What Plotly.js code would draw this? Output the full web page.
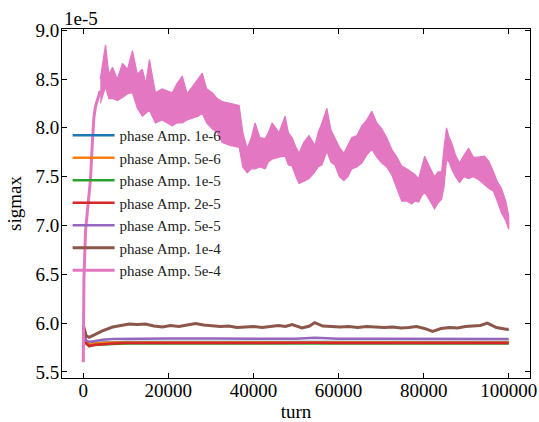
<!DOCTYPE html>
<html>
<head>
<meta charset="utf-8">
<script src="https://cdn.plot.ly/plotly-3.0.1.min.js"></script>
<style>html,body{margin:0;padding:0;background:#fff;}#chart{width:539px;height:422px;}</style>
</head>
<body>
<div id="chart"></div>
<script>
// values of sigmax in units of 1e-5
var seriesNames = ["phase Amp. 1e-6", "phase Amp. 5e-6", "phase Amp. 1e-5", "phase Amp. 2e-5", "phase Amp. 5e-5", "phase Amp. 1e-4", "phase Amp. 5e-4"];
var xTickVals = [0, 20000, 40000, 60000, 80000, 100000];
var xTickText = ["0", "20000", "40000", "60000", "80000", "100000"];
var yTickVals = [5.5, 6.0, 6.5, 7.0, 7.5, 8.0, 8.5, 9.0];
var yTickText = ["5.5", "6.0", "6.5", "7.0", "7.5", "8.0", "8.5", "9.0"];
var offsetText = "1e-5";

var turnsLow = [0, 300, 700, 1400, 2500, 4500, 6900, 10000, 20000, 30000, 40000, 50000, 54400, 60000, 70000, 80000, 90000, 100000];
var amp1e6 = [5.98, 5.88, 5.81, 5.785, 5.795, 5.80, 5.805, 5.807, 5.806, 5.807, 5.806, 5.806, 5.808, 5.806, 5.806, 5.805, 5.806, 5.806];
var amp5e6 = [5.98, 5.87, 5.80, 5.78, 5.79, 5.797, 5.80, 5.802, 5.802, 5.803, 5.802, 5.802, 5.804, 5.802, 5.802, 5.802, 5.802, 5.802];
var amp1e5 = [5.97, 5.86, 5.79, 5.765, 5.775, 5.783, 5.787, 5.79, 5.79, 5.79, 5.79, 5.79, 5.79, 5.79, 5.79, 5.79, 5.79, 5.79];
var amp2e5 = [5.97, 5.86, 5.79, 5.765, 5.776, 5.786, 5.792, 5.795, 5.797, 5.797, 5.797, 5.797, 5.798, 5.797, 5.797, 5.797, 5.797, 5.797];
var amp5e5 = [5.98, 5.88, 5.82, 5.808, 5.815, 5.83, 5.838, 5.84, 5.842, 5.841, 5.84, 5.84, 5.85, 5.84, 5.839, 5.838, 5.838, 5.837];

var turnsBrown = [0, 300, 700, 1400, 2500, 4500, 6900, 8800, 10800, 12700, 14600, 16600, 18600, 20500, 22500, 24400, 26400, 28300, 30300, 32200, 34200, 36100, 38100, 40000, 42000, 43900, 45900, 47500, 49100, 51400, 53200, 54400, 56300, 58300, 60300, 62400, 64500, 66600, 68700, 70700, 72800, 74700, 76500, 78300, 80200, 82100, 84100, 86100, 88000, 89800, 91500, 93300, 95000, 97100, 99700, 100000];
var amp1e4 = [5.98, 5.92, 5.87, 5.855, 5.88, 5.92, 5.96, 5.975, 5.99, 5.985, 5.99, 5.97, 5.96, 5.975, 5.965, 5.98, 5.995, 5.98, 5.975, 5.965, 5.97, 5.955, 5.96, 5.965, 5.955, 5.965, 5.975, 5.965, 5.985, 5.95, 5.97, 6.005, 5.97, 5.965, 5.96, 5.965, 5.955, 5.965, 5.96, 5.955, 5.96, 5.95, 5.955, 5.965, 5.945, 5.915, 5.945, 5.955, 5.95, 5.965, 5.97, 5.975, 6.0, 5.955, 5.935, 5.94];

var turnsPinkRise = [0, 150, 540, 940, 1710, 2110, 2480, 2880, 4000];
var amp5e4Rise = [5.6, 6.45, 6.95, 7.15, 7.48, 7.83, 8.10, 8.22, 8.38];

var turnsPink = [4000, 5230, 6000, 6870, 8000, 9210, 10400, 11560, 12700, 13900, 14700, 15540, 16950, 18500, 20930, 22000, 23280, 24400, 25620, 27000, 27970, 29000, 30310, 31500, 32660, 34530, 36640, 37500, 38520, 39500, 40390, 41500, 42740, 43500, 44380, 46000, 47430, 48200, 49070, 50000, 50710, 51800, 53050, 54460, 55200, 56090, 57260, 58200, 59140, 60200, 61250, 62200, 63120, 64300, 65470, 66600, 67810, 69000, 70160, 71300, 72500, 73700, 74850, 76000, 77190, 78000, 78830, 79500, 80240, 81400, 82580, 83400, 84220, 84800, 85390, 86000, 86560, 87500, 88440, 89500, 90550, 91700, 92890, 94300, 95300, 96410, 97300, 98280, 99300, 100000];
var amp5e4Upper = [8.50, 8.85, 8.55, 8.62, 8.50, 8.66, 8.60, 8.79, 8.55, 8.60, 8.45, 8.70, 8.36, 8.40, 8.36, 8.45, 8.53, 8.35, 8.42, 8.50, 8.56, 8.40, 8.36, 8.30, 8.27, 8.25, 8.23, 7.95, 7.79, 7.90, 8.05, 7.90, 7.89, 7.95, 8.05, 7.95, 8.12, 7.95, 7.90, 7.80, 7.74, 7.85, 7.92, 7.82, 7.95, 8.05, 8.20, 7.98, 7.90, 7.80, 7.74, 7.82, 7.90, 7.92, 8.02, 8.08, 8.17, 8.05, 7.99, 7.90, 7.78, 7.70, 7.61, 7.58, 7.54, 7.52, 7.48, 7.60, 7.71, 7.60, 7.50, 7.55, 7.55, 7.80, 8.00, 7.90, 7.85, 7.72, 7.64, 7.72, 7.79, 7.70, 7.70, 7.71, 7.66, 7.55, 7.45, 7.38, 7.25, 7.10];
var amp5e4Lower = [8.25, 8.42, 8.30, 8.30, 8.28, 8.31, 8.35, 8.36, 8.20, 8.12, 8.15, 8.18, 8.05, 8.08, 8.02, 8.05, 8.05, 8.08, 8.10, 8.12, 8.15, 8.05, 7.99, 7.95, 7.85, 7.82, 7.80, 7.60, 7.54, 7.58, 7.58, 7.60, 7.58, 7.65, 7.68, 7.70, 7.71, 7.62, 7.61, 7.50, 7.43, 7.45, 7.48, 7.55, 7.60, 7.62, 7.76, 7.65, 7.62, 7.50, 7.46, 7.50, 7.58, 7.60, 7.64, 7.72, 7.78, 7.70, 7.64, 7.60, 7.52, 7.38, 7.25, 7.25, 7.22, 7.25, 7.24, 7.30, 7.34, 7.26, 7.17, 7.23, 7.27, 7.40, 7.67, 7.65, 7.58, 7.50, 7.44, 7.50, 7.48, 7.50, 7.47, 7.42, 7.38, 7.35, 7.25, 7.13, 7.05, 6.96];

var colors = ["#1f77b4", "#ff7f0e", "#2ca02c", "#d62728", "#9467bd", "#8c564b", "#e377c2"];
var FONT = "Liberation Serif";

var lowSeries = [amp1e6, amp5e6, amp1e5, amp2e5, amp5e5];
var traces = [];
lowSeries.forEach(function (vals, i) {
  traces.push({x: turnsLow, y: vals, type: "scatter", mode: "lines", name: seriesNames[i],
    line: {color: colors[i], width: 2.5}});
});
traces.push({x: turnsBrown, y: amp1e4, type: "scatter", mode: "lines", name: seriesNames[5],
  line: {color: colors[5], width: 3}});
traces.push({x: turnsPink.concat(turnsPink.slice().reverse()),
  y: amp5e4Upper.concat(amp5e4Lower.slice().reverse()),
  type: "scatter", mode: "lines", fill: "toself", fillcolor: colors[6],
  line: {color: colors[6], width: 1.2}, showlegend: false, hoverinfo: "skip"});
traces.push({x: turnsPinkRise, y: amp5e4Rise, type: "scatter", mode: "lines", name: seriesNames[6],
  line: {color: colors[6], width: 3}});

var axisCommon = {
  showgrid: false, zeroline: false, showline: true, linecolor: "#000", linewidth: 1,
  mirror: "allticks", ticks: "inside", ticklen: 5, tickwidth: 1, tickcolor: "#000",
  tickfont: {family: FONT, size: 19, color: "#000"}
};

var layout = {
  width: 539, height: 422,
  margin: {l: 62, r: 9, t: 29, b: 44},
  paper_bgcolor: "#fff", plot_bgcolor: "#fff",
  font: {family: FONT, color: "#000"},
  showlegend: true,
  legend: {x: 0.012, y: 0.742, xanchor: "left", yanchor: "top", bgcolor: "rgba(0,0,0,0)",
    itemwidth: 42,
    font: {family: FONT, size: 15, color: "#222"}, traceorder: "normal"},
  xaxis: Object.assign({}, axisCommon, {range: [-5000, 105000], tickmode: "array",
    tickvals: xTickVals, ticktext: xTickText, ticklabelstandoff: -5,
    title: {text: "turn", font: {family: FONT, size: 19, color: "#000"}, standoff: 9}}),
  yaxis: Object.assign({}, axisCommon, {range: [5.4375, 9.0125], tickmode: "array",
    tickvals: yTickVals, ticktext: yTickText, ticklabelstandoff: -2,
    title: {text: "sigmax", font: {family: FONT, size: 19, color: "#000"}, standoff: 8}}),
  annotations: [{text: offsetText, xref: "paper", yref: "paper", x: 0, y: 1, xanchor: "left", yanchor: "bottom",
    showarrow: false, font: {family: FONT, size: 19, color: "#000"}, yshift: -2}]
};

Plotly.newPlot("chart", traces, layout, {displayModeBar: false, staticPlot: true});
</script>
</body>
</html>
